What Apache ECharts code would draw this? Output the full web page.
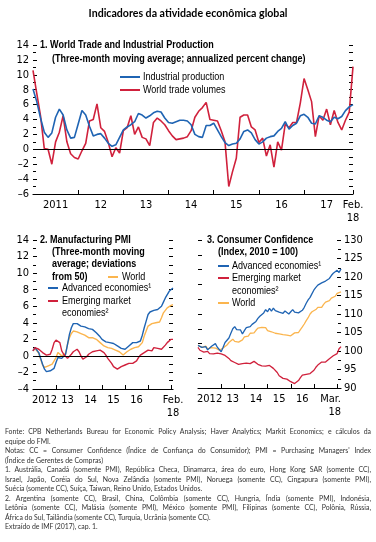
<!DOCTYPE html>
<html>
<head>
<meta charset="utf-8">
<script src="https://cdn.jsdelivr.net/npm/echarts@6/dist/echarts.min.js"></script>
<style>
  html, body { margin: 0; padding: 0; background: #fff; }
  #chart { position: absolute; left: 0; top: 0; width: 376px; height: 542px; }
  #notes { position: absolute; left: 5px; top: 427px; width: 366px; font-family: Lato, "Open Sans", sans-serif; font-size: 6.9px; line-height: 9.5px; color: #333; }
  #notes .j { text-align: justify; text-align-last: justify; }
</style>
</head>
<body>
<div id="chart"></div>
<div id="notes">
  <div class="j">Fonte: CPB Netherlands Bureau for Economic Policy Analysis; Haver Analytics; Markit Economics; e cálculos da</div>
  <div>equipe do FMI.</div>
  <div class="j">Notas: CC = Consumer Confidence (Índice de Confiança do Consumidor); PMI = Purchasing Managers' Index</div>
  <div>(Índice de Gerentes de Compras)</div>
  <div class="j">1. Austrália, Canadá (somente PMI), República Checa, Dinamarca, área do euro, Hong Kong SAR (somente CC),</div>
  <div class="j">Israel, Japão, Coréia do Sul, Nova Zelândia (somente PMI), Noruega (somente CC), Cingapura (somente PMI),</div>
  <div>Suécia (somente CC), Suíça, Taiwan, Reino Unido, Estados Unidos.</div>
  <div class="j">2. Argentina (somente CC), Brasil, China, Colômbia (somente CC), Hungria, Índia (somente PMI), Indonésia,</div>
  <div class="j">Letônia (somente CC), Malásia (somente PMI), México (somente PMI), Filipinas (somente CC), Polônia, Rússia,</div>
  <div>África do Sul, Tailândia (somente CC), Turquia, Ucrânia (somente CC).</div>
  <div>Extraído de IMF (2017), cap. 1.</div>
</div>
<script>
const FONT = '"Liberation Sans Narrow", "DejaVu Sans Condensed", "Arial Narrow", sans-serif';
const TEXT_FONT = '"Liberation Sans", Arial, sans-serif';
const NARROW = 0.82; // Liberation Sans squeezed to Arial Narrow width
const BLUE = '#1f64b3';
const RED = '#d0213c';
const ORANGE = '#fbb54e';

function monthList(y0, m0, y1, m1) {
  const out = [];
  let y = y0, m = m0;
  while (y < y1 || (y === y1 && m <= m1)) {
    out.push(y + '-' + String(m).padStart(2, '0'));
    m++;
    if (m > 12) { m = 1; y++; }
  }
  return out;
}

// 1. world trade / industrial production, Jan 2011 - Feb 2018
const tradeMonths = monthList(2011, 1, 2018, 2);
const industrialProduction = [
  8.1, 6.4, 4.2, 2.3, 1.6, 2.2, 4.3, 5.4, 4.6, 2.6, 1.5, 1.6,
  3.4, 5.2, 4.6, 3.1, 1.8, 2.0, 2.1, 1.5, 0.8, 0.4, 0.6, 1.6,
  2.6, 3.0, 3.3, 3.7, 4.8, 4.6, 4.2, 4.5, 4.9, 5.1, 5.0, 4.2,
  3.6, 3.5, 3.7, 3.9, 3.9, 3.8, 3.3, 2.0, 1.7, 1.6, 3.2, 3.2,
  3.5, 2.6, 1.7, 0.9, 0.5, 0.7, 0.8, 1.4, 2.4, 2.6, 2.2, 1.3,
  0.7, 1.0, 1.5, 1.7, 1.8, 2.4, 2.8, 3.7, 2.7, 3.2, 3.5, 4.5,
  4.7, 4.3, 3.5, 3.4, 4.5, 4.3, 3.9, 3.7, 4.3, 4.1, 4.4, 5.2,
  5.7, 6.0
];
const worldTradeVolumes = [
  10.6, 7.5, 4.5, 0.1, 0.0, -2.0, 1.0, 2.3, 4.5, 1.0, -0.6, -1.1,
  -1.3, -0.2, 0.8, 3.8, 4.0, 6.1, 2.9, 2.4, 0.9, -1.0, 0.2, -0.5,
  2.5, 2.9, 4.5, 2.0, 3.0, 1.6, 1.4, 0.5, 3.6, 4.2, 3.8, 3.3,
  2.5, 1.8, 1.3, 1.4, 1.5, 1.7, 2.5, 4.3, 5.1, 5.6, 6.3, 4.0,
  3.9, 3.8, 2.5, 1.0, -5.0, -3.0, -1.2, 4.3, 4.6, 4.6, 3.0, 2.6,
  0.9, 1.5, -0.9, 0.6, -2.4, 1.0, -0.1, 3.4, 2.9, 3.6, 3.6, 6.2,
  9.5, 8.0, 6.4, 1.7, 4.5, 3.9, 5.4, 3.3, 5.2, 3.6, 2.6, 3.9,
  5.0, 11.1
];
const tradeTickMonths = ['2012-01', '2013-01', '2014-01', '2015-01', '2016-01', '2017-01', '2018-02'];
const tradeLabelMonths = ['2011-07', '2012-07', '2013-07', '2014-07', '2015-07', '2016-07', '2017-07', '2018-02'];
const tradeLabelText = ['2011', '12', '13', '14', '15', '16', '17', 'Feb.\n18'];

// 2. manufacturing PMI, Jan 2012 - Feb 2018
const pmiMonths = monthList(2012, 1, 2018, 2);
const pmiWorld = [
  0.6, 0.9, 0.8, 0.3, -0.4, -1.1, -1.4, -1.3, -1.2, -1.1, -1.0, -0.8,
  -0.2, 0.4, 0.2, 0.0, 0.0, 0.3, 1.4, 2.2, 2.7, 3.0, 3.1, 2.9,
  2.8, 2.7, 2.6, 2.5, 2.3, 2.2, 2.2, 2.2, 2.2, 2.0, 1.9, 1.6,
  1.4, 1.2, 1.1, 1.0, 1.0, 0.9, 0.8, 0.7, 0.6, 0.5, 0.4, 0.1,
  0.3, 0.5, 0.7, 0.8, 0.9, 1.0, 1.0, 1.1, 1.2, 1.6, 2.4, 3.0,
  3.6, 3.8, 3.9, 4.0, 4.0, 4.0, 4.1, 4.6, 5.2, 5.5, 5.8, 5.9,
  6.1, 6.2
];
const pmiAdvanced = [
  0.6, 1.0, 0.8, 0.4, -0.3, -1.0, -1.6, -1.9, -1.9, -1.8, -2.0, -1.5,
  -0.8, -0.2, -0.4, -0.3, -0.1, 0.2, 1.4, 2.6, 3.4, 3.9, 4.0, 3.9,
  3.8, 3.6, 3.5, 3.5, 3.4, 3.3, 3.2, 3.2, 3.0, 2.8, 2.6, 2.3,
  2.0, 1.9, 1.7, 1.6, 1.6, 1.6, 1.5, 1.4, 1.2, 1.0, 0.9, 0.7,
  0.8, 1.0, 1.2, 1.4, 1.6, 1.6, 1.6, 1.7, 1.8, 2.5, 3.4, 4.2,
  5.0, 5.3, 5.4, 5.5, 5.5, 5.6, 5.8, 6.0, 6.5, 7.0, 7.4, 7.8,
  8.0, 8.2
];
const pmiEmerging = [
  0.6, 1.0, 1.0, 0.8, 0.6, 0.4, 0.3, 0.1, 0.1, 0.2, 0.8, 1.6,
  1.9, 1.9, 1.6, 0.6, 0.2, 0.0, -0.3, -0.1, 0.2, 0.5, 0.7, 0.8,
  0.5, 0.0, -0.4, -0.5, -0.1, 0.2, 0.4, 0.5, 0.6, 0.6, 0.7, 0.7,
  0.6, 0.4, 0.1, -0.3, -0.6, -0.9, -1.3, -1.5, -1.6, -1.5, -1.3, -1.2,
  -1.1, -1.0, -0.9, -0.9, -0.9, -0.8, -0.6, -0.2, 0.1, 0.3, 0.4, 0.6,
  0.7, 0.7, 0.6, 1.0, 1.0, 0.9, 0.8, 0.8, 1.0, 1.3, 1.6, 1.8,
  2.0, 2.0
];
const pmiTickMonths = ['2013-01', '2014-01', '2015-01', '2016-01', '2017-01', '2018-01'];
const pmiLabelMonths = ['2012-07', '2013-07', '2014-07', '2015-07', '2016-07', '2018-02'];
const pmiLabelText = ['2012', '13', '14', '15', '16', 'Feb.\n18'];

// 3. consumer confidence, Jan 2012 - Mar 2018
const ccMonths = monthList(2012, 1, 2018, 3);
const ccAdvanced = [
  101.5, 102.0, 101.0, 100.6, 101.2, 100.3, 100.0, 101.3, 101.8, 102.0, 101.0, 100.5,
  99.8, 101.0, 102.3, 102.0, 103.5, 104.8, 106.0, 106.6, 105.8, 106.2, 105.7, 104.6,
  105.5, 106.3, 105.8, 106.6, 107.2, 106.8, 108.0, 108.8, 109.4, 109.0, 110.3, 111.2,
  110.6, 111.5, 110.8, 111.6, 110.9, 111.3, 110.5, 111.0, 110.2, 110.8, 110.4, 110.0,
  110.6, 111.2, 110.5, 110.9, 110.3, 110.8, 111.0, 111.8, 112.9, 113.8, 114.5, 115.5,
  116.5, 117.2, 117.8, 117.5, 118.4, 118.0, 118.9, 119.3, 119.6, 120.4, 121.0, 120.6,
  121.8, 121.2, 122.2
];
const ccEmerging = [
  101.0, 100.2, 100.6, 99.7, 99.4, 99.9, 99.3, 99.6, 99.2, 99.5, 99.4, 99.7,
  99.2, 98.9, 98.8, 98.5, 98.0, 97.4, 97.2, 96.9, 96.6, 96.4, 96.9, 96.6,
  97.1, 96.7, 97.0, 96.6, 96.9, 97.2, 96.7, 96.4, 96.6, 96.0, 96.3, 95.9,
  95.7, 96.1, 95.8, 95.3, 95.0, 94.2, 93.3, 93.0, 92.6, 92.3, 92.4, 92.0,
  91.7, 91.3, 91.2, 91.5, 92.0, 92.8, 93.5, 93.9, 93.7, 94.2, 93.9, 94.0,
  94.8, 95.6, 96.2, 96.1, 97.0, 97.3, 97.0, 97.5, 97.9, 97.6, 98.7, 98.4,
  99.3, 100.6, 101.2
];
const ccWorld = [
  101.5, 101.8, 101.0, 100.8, 101.3, 100.6, 100.4, 100.9, 101.2, 100.8, 100.5, 100.2,
  100.0, 100.8, 101.3, 101.6, 102.3, 102.8, 103.2, 102.6, 102.9, 102.4, 102.8, 103.0,
  103.8, 104.3, 104.0, 104.8, 105.2, 104.9, 105.6, 106.2, 105.8, 106.4, 105.9, 106.3,
  105.5, 105.9, 105.2, 105.5, 104.8, 105.2, 104.6, 105.0, 104.4, 104.8, 104.3, 104.6,
  104.1, 104.5, 104.9, 104.4, 105.0, 105.8, 106.5, 107.3, 108.2, 109.0, 110.0, 110.6,
  110.3, 111.2, 111.8, 112.2, 111.8, 112.6, 113.2, 112.8, 113.6, 114.3, 113.8, 114.8,
  115.6, 115.2, 116.0
];
const ccTickMonths = ['2013-01', '2014-01', '2015-01', '2016-01', '2017-01', '2018-01'];
const ccLabelMonths = ['2012-07', '2013-07', '2014-07', '2015-07', '2016-07', '2018-03'];
const ccLabelText = ['2012', '13', '14', '15', '16', 'Mar.\n18'];

const chart = echarts.init(document.getElementById('chart'));

function xAxisFor(gridIndex, months, tickMonths, labelMonths, labelText, lastAlign) {
  const data = months.map((m, i) =>
    i === months.length - 1 && lastAlign ? { value: m, textStyle: { align: lastAlign } } : m
  );
  return {
    type: 'category',
    gridIndex: gridIndex,
    data: data,
    boundaryGap: false,
    axisLine: { show: true, onZero: false, lineStyle: { color: '#000', width: 1.2 } },
    axisTick: {
      show: true, inside: true, length: 4,
      interval: (i, v) => tickMonths.indexOf(v) >= 0,
      lineStyle: { color: '#000', width: 1 }
    },
    axisLabel: {
      interval: (i, v) => labelMonths.indexOf(v) >= 0,
      formatter: (v) => labelText[labelMonths.indexOf(v)] || '',
      margin: 5, color: '#000', fontFamily: FONT, fontSize: 11, lineHeight: 13
    },
    splitLine: { show: false }
  };
}

function yAxisFor(gridIndex, position, min, max, interval, labels, minor) {
  return {
    type: 'value',
    gridIndex: gridIndex,
    position: position,
    min: min, max: max, interval: interval,
    axisLine: { show: false },
    splitLine: { show: false },
    axisTick: { show: true, inside: true, length: 4, lineStyle: { color: '#000', width: 1 } },
    minorTick: { show: !!minor, splitNumber: 2, length: 3, lineStyle: { color: '#000', width: 1 } },
    axisLabel: {
      show: labels,
      margin: position === 'left' ? 4 : 3,
      color: '#000', fontFamily: FONT, fontSize: 11,
      formatter: (v) => String(v).replace('-', '\u2013')
    }
  };
}

function zeroLine() {
  return {
    silent: true, symbol: 'none', animation: false,
    label: { show: false },
    lineStyle: { color: '#000', width: 1.2, type: 'solid' },
    data: [{ yAxis: 0 }]
  };
}

function lineSeries(name, data, color, xi, yi, width) {
  return {
    name: name, type: 'line', data: data,
    xAxisIndex: xi, yAxisIndex: yi,
    showSymbol: false, symbol: 'none',
    lineStyle: { color: color, width: width },
    itemStyle: { color: color }
  };
}

function txt(text, x, y, bold) {
  return {
    type: 'text', x: x, y: y, scaleX: NARROW, silent: true,
    style: {
      text: text, fill: '#000',
      font: (bold ? 'bold ' : '') + '11px ' + TEXT_FONT,
      textVerticalAlign: 'middle'
    }
  };
}

function swatch(x1, x2, y, color) {
  return {
    type: 'line', silent: true,
    shape: { x1: x1, y1: y, x2: x2, y2: y },
    style: { stroke: color, lineWidth: 2 }
  };
}

const s1 = lineSeries('World trade volumes', worldTradeVolumes, RED, 0, 0, 1.6);
s1.markLine = zeroLine();
const s4 = lineSeries('Emerging market economies', pmiEmerging, RED, 1, 2, 1.4);
s4.markLine = zeroLine();

const option = {
  animation: false,
  backgroundColor: '#fff',
  grid: [
    { left: 33, top: 45, width: 320, height: 149 },
    { left: 33, top: 240, width: 140, height: 149 },
    { left: 198, top: 240, width: 143, height: 148 }
  ],
  xAxis: [
    xAxisFor(0, tradeMonths, tradeTickMonths, tradeLabelMonths, tradeLabelText),
    xAxisFor(1, pmiMonths, pmiTickMonths, pmiLabelMonths, pmiLabelText),
    xAxisFor(2, ccMonths, ccTickMonths, ccLabelMonths, ccLabelText, 'right')
  ],
  yAxis: [
    yAxisFor(0, 'left', -6, 14, 2, true, true),
    yAxisFor(0, 'right', -6, 14, 1, false, false),
    yAxisFor(1, 'left', -4, 14, 2, true, true),
    yAxisFor(1, 'right', -4, 14, 1, false, false),
    yAxisFor(2, 'right', 90, 130, 5, true, true),
    yAxisFor(2, 'left', 0, 10, 1, false, false)
  ],
  series: [
    s1,
    lineSeries('Industrial production', industrialProduction, BLUE, 0, 0, 1.6),
    lineSeries('World', pmiWorld, ORANGE, 1, 2, 1.4),
    lineSeries('Advanced economies', pmiAdvanced, BLUE, 1, 2, 1.4),
    s4,
    lineSeries('World', ccWorld, ORANGE, 2, 4, 1.3),
    lineSeries('Emerging market economies', ccEmerging, RED, 2, 4, 1.3),
    lineSeries('Advanced economies', ccAdvanced, BLUE, 2, 4, 1.3)
  ],
  graphic: [
    {
      type: 'text', x: 188, y: 14, silent: true,
      style: {
        text: 'Indicadores da atividade econômica global', fill: '#000',
        font: 'bold 10.6px Lato, "Open Sans", sans-serif',
        textAlign: 'center', textVerticalAlign: 'middle'
      }
    },
    // panel 1
    txt('1. World Trade and Industrial Production', 40, 45, true),
    txt('(Three-month moving average; annualized percent change)', 52, 59, true),
    swatch(120, 140, 77, BLUE), txt('Industrial production', 143, 77),
    swatch(120, 140, 90, RED), txt('World trade volumes', 143, 90),
    // panel 2
    txt('2. Manufacturing PMI', 40, 240, true),
    txt('(Three-month moving', 52, 252, true),
    txt('average; deviations', 52, 264, true),
    txt('from 50)', 52, 277, true),
    swatch(108, 118, 277, ORANGE), txt('World', 122, 277),
    swatch(48, 58, 288, BLUE), txt('Advanced economies\u00b9', 62, 288),
    swatch(48, 58, 301, RED), txt('Emerging market', 62, 301),
    txt('economies\u00b2', 62, 313),
    // panel 3
    txt('3. Consumer Confidence', 207, 240, true),
    txt('(Index, 2010 = 100)', 218, 252, true),
    swatch(218, 229, 266, BLUE), txt('Advanced economies\u00b9', 232, 266),
    swatch(218, 229, 278, RED), txt('Emerging market', 232, 278),
    txt('economies\u00b2', 232, 291),
    swatch(218, 229, 303, ORANGE), txt('World', 232, 303)
  ]
};

chart.setOption(option);
</script>
</body>
</html>
